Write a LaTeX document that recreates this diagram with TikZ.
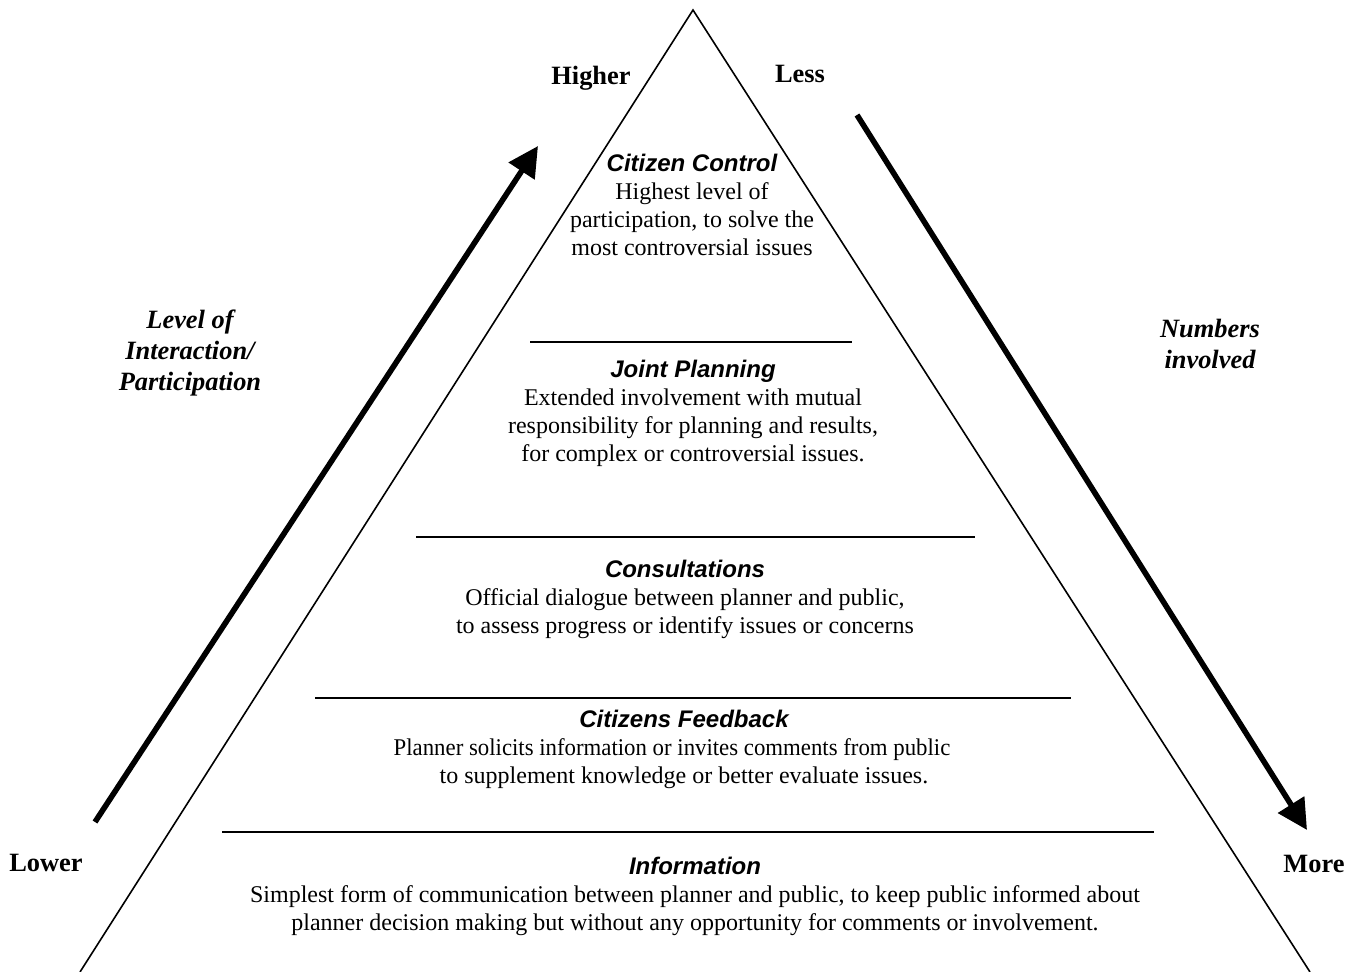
\documentclass[tikz,border=0pt]{standalone}
\usepackage{fontspec}
\usepackage{graphicx}
\setmainfont{Liberation Serif}
\setsansfont{Liberation Sans}
\usetikzlibrary{arrows.meta}

\newcommand{\lvlname}[1]{{\sffamily\bfseries\itshape #1}}

\tikzset{
  edge/.style={line width=0.8pt},
  divider/.style={line width=0.8pt},
  level/.style={align=center, anchor=north, inner sep=0pt, font=\fontsize{12}{14}\selectfont},
  side/.style={font=\fontsize{13.2}{15.5}\selectfont\bfseries, inner sep=0pt},
  axislabel/.style={side, anchor=north, align=center, font=\fontsize{13.2}{15.5}\selectfont\bfseries\itshape},
  bigarrow/.style={line width=2.8pt, -{Triangle[length=15pt,width=15pt]}}
}

\begin{document}
\begin{tikzpicture}[x=0.5pt, y=-0.5pt]
  \useasboundingbox (0,0) rectangle (1356,972);

  % pyramid
  \coordinate (apex) at (693,10);
  \coordinate (baseL) at (80,972);
  \coordinate (baseR) at (1310,972);
  \draw[edge] (baseL) -- (apex) -- (baseR);

  % dividers between the levels
  \draw[divider] (530,342) -- (852,342);
  \draw[divider] (416,537) -- (975,537);
  \draw[divider] (315,698) -- (1071,698);
  \draw[divider] (222,832) -- (1154,832);

  % levels, top to bottom
  \node[level] (control) at (692,154) {\lvlname{Citizen Control}\\Highest level of\\participation, to solve the\\most controversial issues};
  \node[level] (joint) at (693,360) {\lvlname{Joint Planning}\\Extended involvement with mutual\\responsibility for planning and results,\\for complex or controversial issues.};
  \node[level] (consult) at (685,560) {\lvlname{Consultations}\\Official dialogue between planner and public,\\to assess progress or identify issues or concerns};
  \node[level] (feedback) at (684,710) {\lvlname{Citizens Feedback}\\\scalebox{0.95}[1]{Planner solicits information or invites comments from public}\rule{12pt}{0pt}\\to supplement knowledge or better evaluate issues.};
  \node[level] (info) at (695,857) {\lvlname{Information}\\Simplest form of communication between planner and public, to keep public informed about\\planner decision making but without any opportunity for comments or involvement.};

  % participation axis
  \coordinate (partLow) at (95,822);
  \coordinate (partHigh) at (538,146);
  \draw[bigarrow] (partLow) -- (partHigh);
  \node[side, anchor=base] (higher) at (591,85) {Higher};
  \node[side, anchor=base] (lower) at (46,871) {Lower};
  \node[axislabel] (partlabel) at (190,310) {Level of\\Interaction/\\Participation};

  % numbers axis
  \coordinate (numLess) at (857,115);
  \coordinate (numMore) at (1307,830);
  \draw[bigarrow] (numLess) -- (numMore);
  \node[side, anchor=base] (less) at (800,83) {Less};
  \node[side, anchor=base] (more) at (1314,873) {More};
  \node[axislabel] (numlabel) at (1210,319) {Numbers\\involved};
\end{tikzpicture}
\end{document}
